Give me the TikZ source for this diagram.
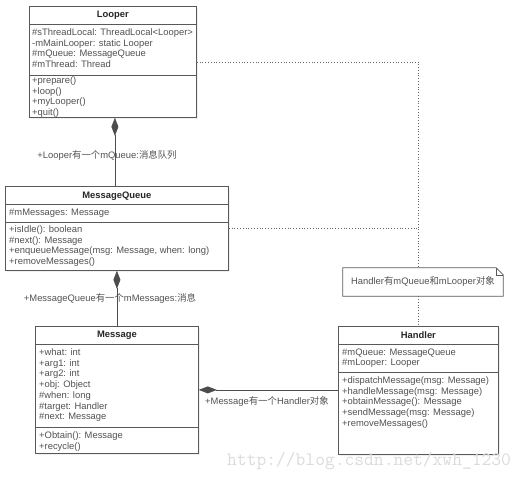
\documentclass[tikz,border=0pt]{standalone}
\usepackage{fontspec}
\setmainfont{Liberation Sans}
\newfontfamily\cjk{Noto Sans CJK SC}
\usetikzlibrary{arrows.meta,calc,positioning,shadows}
\definecolor{umlline}{gray}{0.35}
\definecolor{umltext}{gray}{0.32}

\begin{document}
\begin{tikzpicture}[x=1pt, y=-1pt, font=\fontsize{9.4}{10.7}\selectfont, >=latex]
    \tikzstyle{class}=[rectangle, draw=umlline, fill=white, line width=0.8pt, anchor=north west, inner sep=0pt, drop shadow={opacity=0.12, shadow xshift=2pt, shadow yshift=-2pt}]
    \tikzstyle{title}=[font=\fontsize{9.4}{10.7}\selectfont\bfseries, text=black!85]
    \tikzstyle{members}=[anchor=north west, align=left, text=umltext, inner sep=0pt]
    \tikzstyle{sep}=[draw=umlline, line width=0.6pt]
    \tikzstyle{owns}=[draw=black!70, line width=0.7pt, {Diamond[length=18pt,width=7pt]}-]
    \tikzstyle{link}=[draw=black!60, dotted, line width=0.8pt]
    \tikzstyle{lbl}=[text=umltext, inner sep=1pt]

    \useasboundingbox (0,0) rectangle (528,479);

    \node[class, minimum width=167pt, minimum height=111pt] (looper) at (29,6) {};
    \node[title] at (looper.north |- 0,15) {Looper};
    \draw[sep] (looper.west |- 0,24) -- (looper.east |- 0,24);
    \draw[sep] (looper.west |- 0,75) -- (looper.east |- 0,75);
    \node[members] (looperattr) at (32,28.5) {\#sThreadLocal: ThreadLocal<Looper>\\-mMainLooper: static Looper\\\#mQueue: MessageQueue\\\#mThread: Thread};
    \node[members] (loopermeth) at (32,76.5) {+prepare()\\+loop()\\+myLooper()\\+quit()};

    \node[class, minimum width=223pt, minimum height=84pt] (queue) at (5,186) {};
    \node[title] at (queue.north |- 0,196) {MessageQueue};
    \draw[sep] (queue.west |- 0,204) -- (queue.east |- 0,204);
    \draw[sep] (queue.west |- 0,222) -- (queue.east |- 0,222);
    \node[members] (queueattr) at (9,208.5) {\#mMessages: Message};
    \node[members] (queuemeth) at (9,225.5) {+isIdle(): boolean\\\#next(): Message\\+enqueueMessage(msg: Message, when: long)\\+removeMessages()};

    \node[class, minimum width=163pt, minimum height=127pt] (message) at (35,326) {};
    \node[title] at (message.north |- 0,335) {Message};
    \draw[sep] (message.west |- 0,344) -- (message.east |- 0,344);
    \draw[sep] (message.west |- 0,427) -- (message.east |- 0,427);
    \node[members] (messageattr) at (39,348.5) {+what: int\\+arg1: int\\+arg2: int\\+obj: Object\\\#when: long\\\#target: Handler\\\#next: Message};
    \node[members] (messagemeth) at (39,431.5) {+Obtain(): Message\\+recycle()};

    \node[class, minimum width=160pt, minimum height=128pt] (handler) at (338,326) {};
    \node[title] at (handler.north |- 0,335) {Handler};
    \draw[sep] (handler.west |- 0,344) -- (handler.east |- 0,344);
    \draw[sep] (handler.west |- 0,372) -- (handler.east |- 0,372);
    \node[members] (handlerattr) at (342,348.5) {\#mQueue: MessageQueue\\\#mLooper: Looper};
    \node[members] (handlermeth) at (342,376.5) {+dispatchMessage(msg: Message)\\+handleMessage(msg: Message)\\+obtainMessage(): Message\\+sendMessage(msg: Message)\\+removeMessages()};

    \node[minimum width=160pt, minimum height=28pt, inner sep=0pt, text=umltext] (note) at (423,282) {Handler{\cjk 有}mQueue{\cjk 和}mLooper{\cjk 对象}};
    \draw[umlline, line width=0.7pt] (note.north west) -- ([xshift=-7pt]note.north east) -- ([yshift=-7pt]note.north east) -- (note.south east) -- (note.south west) -- cycle;
    \draw[umlline, line width=0.5pt] ([xshift=-7pt]note.north east) -- ([xshift=-7pt,yshift=-7pt]note.north east) -- ([yshift=-7pt]note.north east);

    \draw[owns] ([xshift=2pt]looper.south) -- ([xshift=2pt]looper.south |- queue.north);
    \draw[owns] (queue.south) -- (queue.south |- message.north);
    \draw[owns] (message.east) -- (message.east -| handler.west);

    \draw[link] (looper.east) -- (looper.east -| handler.north) -- (note.north -| handler.north);
    \draw[link] (queue.east) -- (queue.east -| handler.north);
    \draw[link] (note.south -| handler.north) -- (handler.north);

    \node[lbl] (looperlbl) at (107,155) {+Looper{\cjk 有一个}mQueue:{\cjk 消息队列}};
    \node[lbl] (queuelbl) at (110,298) {+MessageQueue{\cjk 有一个}mMessages:{\cjk 消息}};
    \node[lbl, anchor=west] (messagelbl) at (204,402) {+Message{\cjk 有一个}Handler{\cjk 对象}};

    \node[text=black!14, font=\ttfamily\fontsize{19}{19}\selectfont, anchor=base west, inner sep=0pt] (mark) at (227,465) {http://blog.csdn.net/xwh\_1230};
\end{tikzpicture}
\end{document}
